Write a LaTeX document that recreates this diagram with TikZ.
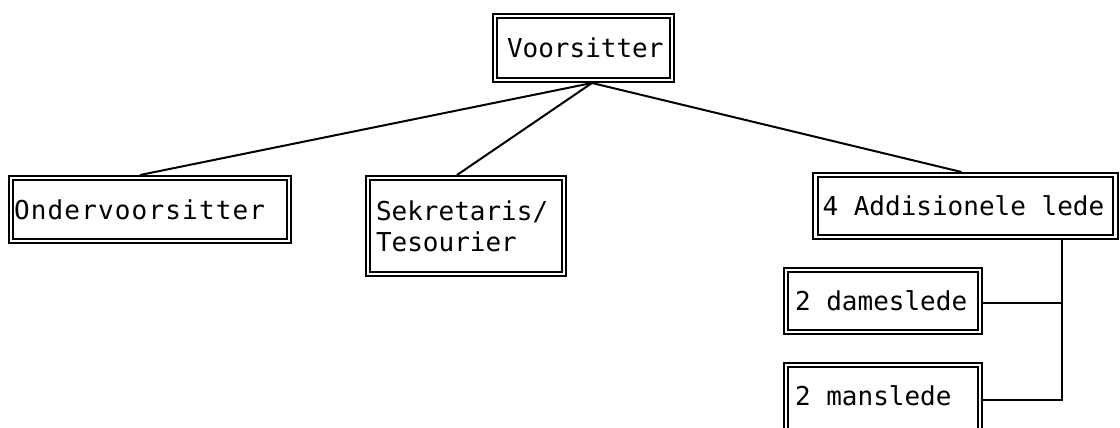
\documentclass[tikz,border=0pt]{standalone}
\usepackage{fontspec}
\setmonofont{DejaVu Sans Mono}
\newcommand\monosp{\kern0.602em\relax}
\begin{document}
\begin{tikzpicture}[x=1pt,y=-1pt,
  box/.style={draw=black, line width=1.7pt, double=white, double distance=2.8pt,
    outer sep=3pt, inner sep=0pt, align=left,
    font=\ttfamily\fontsize{26}{31}\selectfont},
  link/.style={draw=black, line width=2pt}]
\useasboundingbox (0,0) rectangle (1120,428);
\clip (0,0) rectangle (1120,428);
\fill[white] (0,0) rectangle (1120,428);
\node[box, minimum width=177pt, minimum height=64pt, text width=153pt] (voor) at (583.5,48) {Voorsitter};
\node[box, minimum width=278pt, minimum height=63pt, text width=272pt] (ond) at (150,209.5) {\addfontfeature{LetterSpace=4.5}Ondervoorsitter};
\node[box, minimum width=196pt, minimum height=96pt, text width=180pt] (sek) at (466,226) {Sekretaris/\\Tesourier};
\node[box, minimum width=300pt, minimum height=62pt, text width=286pt] (add) at (965.5,206) {4\monosp Addisionele\monosp lede};
\node[box, minimum width=194pt, minimum height=62pt, text width=176pt] (dames) at (883,301) {2\monosp dameslede};
\node[box, minimum width=194pt, minimum height=76pt, text width=176pt, text height=20pt, text depth=15pt] (mans) at (883,403) {2\monosp manslede};
\coordinate (hub) at ([xshift=8.5pt]voor.south);
\coordinate (spinetop) at ([xshift=96.5pt]add.south);
\draw[link] (hub) -- ([xshift=132pt]ond.north west);
\draw[link] (hub) -- ([xshift=92pt]sek.north west);
\draw[link] (hub) -- ([xshift=149pt]add.north west);
\draw[link] (spinetop) |- ([yshift=3pt]mans.east);
\draw[link] ([yshift=-2pt]dames.east) -- ([yshift=-2pt]dames.east -| spinetop);
\end{tikzpicture}
\end{document}
